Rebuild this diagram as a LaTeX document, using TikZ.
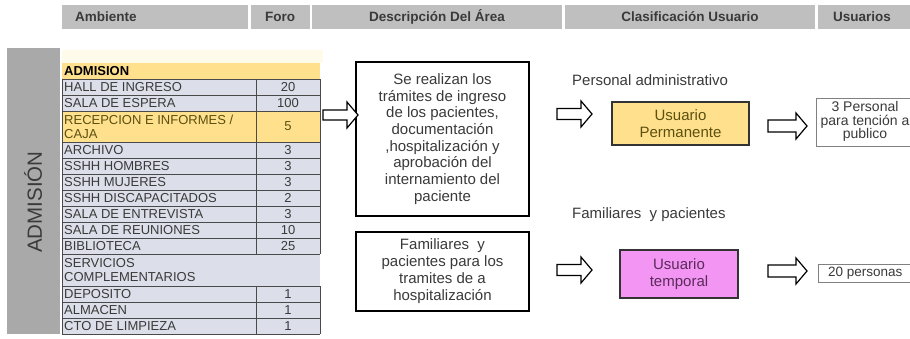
\documentclass[tikz,border=0pt]{standalone}
\usepackage{fontspec}
\setmainfont{Liberation Sans}
\usetikzlibrary{positioning}
\definecolor{hdr}{HTML}{BFBFBF}
\definecolor{band}{HTML}{A9A9A9}
\definecolor{txt}{HTML}{3A3A3A}
\definecolor{rowbg}{HTML}{DCDFE9}
\definecolor{yel}{HTML}{FFE08C}
\definecolor{paley}{HTML}{FFFBEA}
\definecolor{olive}{HTML}{5C5010}
\definecolor{mag}{HTML}{F396F3}
\definecolor{purp}{HTML}{5A2A5A}
\definecolor{line}{HTML}{4A4A4A}
\newcommand{\fs}[1]{\fontsize{#1}{#1}\selectfont}
\newcommand{\blkarrow}[4]{%
  \draw[blk] (#1,#2-#4) -- (#1+#3-11,#2-#4) -- (#1+#3-11,#2-13) -- (#1+#3,#2)
    -- (#1+#3-11,#2+13) -- (#1+#3-11,#2+#4) -- (#1,#2+#4) -- cycle;}
\newcommand{\trow}[8]{% name, y1, y2, label, value, fill, textcolor, sep
  \fill[#6] (62,#2) rectangle (320,#3);
  \node[tlabel, text=#7] (#1) at (64,{(#2+#3)/2}) {#4};
  \ifnum#8=1
    \node[tval, text=#7] (#1v) at (288,{(#2+#3)/2}) {#5};
  \fi
}
\begin{document}
\begin{tikzpicture}[x=1pt,y=-1pt,
  hdrtext/.style={font=\bfseries\fs{13.5}, text=txt, inner sep=0pt},
  tlabel/.style={anchor=west, font=\fs{13}, align=left, inner sep=0pt, text=txt},
  tval/.style={font=\fs{13}, inner sep=0pt, text=txt},
  blk/.style={draw=black, fill=white, line width=1.2pt, line join=miter},
  desc/.style={draw=black, line width=1.3pt, align=center, font=\fs{15}, text=txt, inner sep=0pt},
  lbl/.style={anchor=west, font=\fs{15}, text=txt, inner sep=0pt}]
\clip (0,0) rectangle (910,338);
\fill[white] (0,0) rectangle (910,338);

% header
\fill[hdr] (62,5) rectangle (248,29);
\fill[hdr] (251,5) rectangle (310,29);
\fill[hdr] (312,5) rectangle (562,29);
\fill[hdr] (565,5) rectangle (815,29);
\fill[hdr] (818,5) rectangle (915,29);
\node[hdrtext, anchor=west] (h1) at (75,16.5) {Ambiente};
\node[hdrtext] (h2) at (280,16.5) {Foro};
\node[hdrtext] (h3) at (437,16.5) {Descripción Del Área};
\node[hdrtext] (h4) at (690,16.5) {Clasificación Usuario};
\node[hdrtext] (h5) at (862,16.5) {Usuarios};

% left vertical band
\fill[band] (7,48) rectangle (60,334);
\node[rotate=90, font=\fs{20.5}, text=txt] (adm) at (33,202) {ADMISIÓN};

% table
\fill[paley] (62,50) rectangle (323,63);
\trow{r1}{63}{79}{\textbf{ADMISION}}{}{yel}{black}{0}
\trow{r2}{79}{95}{HALL DE INGRESO}{20}{rowbg}{txt}{1}
\trow{r3}{95}{111}{SALA DE ESPERA}{100}{rowbg}{txt}{1}
\trow{r4}{111}{142}{RECEPCION E INFORMES /\\[1pt]CAJA}{5}{yel}{olive}{1}
\trow{r5}{142}{158}{ARCHIVO}{3}{rowbg}{txt}{1}
\trow{r6}{158}{174}{SSHH HOMBRES}{3}{rowbg}{txt}{1}
\trow{r7}{174}{190}{SSHH MUJERES}{3}{rowbg}{txt}{1}
\trow{r8}{190}{206}{SSHH DISCAPACITADOS}{2}{rowbg}{txt}{1}
\trow{r9}{206}{222}{SALA DE ENTREVISTA}{3}{rowbg}{txt}{1}
\trow{r10}{222}{238}{SALA DE REUNIONES}{10}{rowbg}{txt}{1}
\trow{r11}{238}{254}{BIBLIOTECA}{25}{rowbg}{txt}{1}
\trow{r12}{254}{286}{SERVICIOS\\[1pt]COMPLEMENTARIOS}{}{rowbg}{txt}{0}
\trow{r13}{286}{302}{DEPOSITO}{1}{rowbg}{txt}{1}
\trow{r14}{302}{318}{ALMACEN}{1}{rowbg}{txt}{1}
\trow{r15}{318}{334}{CTO DE LIMPIEZA}{1}{rowbg}{txt}{1}
\begin{scope}[draw=line, line width=0.8pt]
\foreach \yy in {79,95,111,142,158,174,190,206,222,238,254,286,302,318,334}
  \draw (62,\yy) -- (320,\yy);
\draw (62,79) -- (62,334);
\draw (320,79) -- (320,254) (320,286) -- (320,334);
\draw (256,79) -- (256,254) (256,286) -- (256,334);
\end{scope}

% description boxes
\node[desc, minimum width=173, minimum height=154] (d1) at (442.5,139)
  {Se realizan los\\[1.7pt] trámites de ingreso\\[1.7pt] de los pacientes,\\[1.7pt] documentación\\[1.7pt] ,hospitalización y\\[1.7pt] aprobación del\\[1.7pt] internamiento del\\[1.7pt] paciente};
\node[desc, minimum width=173, minimum height=79] (d2) at (442.5,271.5)
  {Familiares\ \ y\\[2pt] pacientes para los\\[2pt] tramites de a\\[2pt] hospitalización};

% labels
\node[lbl] (l1) at (572,80) {Personal\ administrativo};
\node[lbl] (l2) at (572,215) {Familiares\ \ y pacientes};

% classification boxes
\node[draw=black!80, line width=1.3pt, fill=yel, minimum width=137, minimum height=43,
  align=center, font=\fs{15}, text=olive, inner sep=0pt] (u1) at (680.5,123.5)
  {Usuario\\[2pt]Permanente};
\node[draw=black!80, line width=1.3pt, fill=mag, minimum width=118, minimum height=48,
  align=center, font=\fs{15}, text=purp, inner sep=0pt] (u2) at (679,274)
  {Usuario\\[2pt]temporal};

% user boxes
\draw[black!50, line width=0.8pt] (816,98) rectangle (930,146);
\node[align=center, font=\fs{14}, text=txt, inner sep=0pt] (p1) at (865,121.5)
  {3 Personal\\[-0.5pt]para tención a\\[-0.5pt]publico};
\draw[black!50, line width=0.8pt] (818,264) rectangle (930,282);
\node[anchor=west, font=\fs{13.5}, text=txt, inner sep=0pt] (p2) at (828,273) {20 personas};

% block arrows
\blkarrow{323}{115}{35}{5}
\blkarrow{557}{114}{35}{5.5}
\blkarrow{768}{126}{39}{6}
\blkarrow{557}{270}{35}{5.5}
\blkarrow{768}{271}{39}{6}
\end{tikzpicture}
\end{document}
